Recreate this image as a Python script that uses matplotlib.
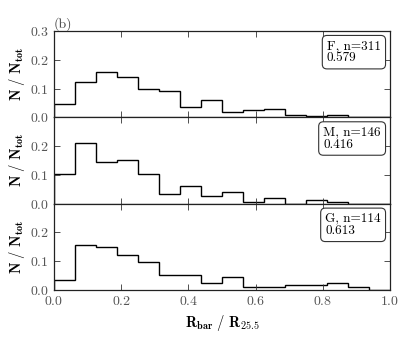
import numpy as np
import matplotlib
matplotlib.use("Agg")
import matplotlib.pyplot as plt
from matplotlib.ticker import FuncFormatter

plt.rcParams['mathtext.fontset'] = 'cm'
plt.rcParams['font.family'] = ['cmr10', 'DejaVu Serif']
plt.rcParams['axes.formatter.use_mathtext'] = True

bin_edges = [i / 16 for i in range(17)]

labels = ["F, n=311", "M, n=146", "G, n=114"]
stats = ["0.579", "0.416", "0.613"]

frac_F = [0.045, 0.122, 0.158, 0.1415, 0.100, 0.093, 0.035, 0.061,
          0.019, 0.026, 0.029, 0.0096, 0.003, 0.0064, 0.0, 0.0]
frac_M = [0.103, 0.212, 0.144, 0.151, 0.103, 0.034, 0.062, 0.027,
          0.041, 0.0068, 0.0205, 0.0, 0.0137, 0.0068, 0.0, 0.0]
frac_G = [0.035, 0.158, 0.149, 0.123, 0.0965, 0.053, 0.053, 0.026,
          0.044, 0.0088, 0.0088, 0.0175, 0.0175, 0.026, 0.0088, 0.0]

series = [frac_F, frac_M, frac_G]
xticks = [0.0, 0.2, 0.4, 0.6, 0.8, 1.0]

fig = plt.figure(figsize=(4.15, 3.42), dpi=100)
left, right = 54 / 415, 390 / 415
top, bottom = 1 - 31 / 342, 1 - 290 / 342
h = (top - bottom) / 3

fmt = FuncFormatter(lambda v, p: r'$%.1f$' % v)
axes = []
for i, (vals, lab, st) in enumerate(zip(series, labels, stats)):
    ax = fig.add_axes([left, top - (i + 1) * h, right - left, h])
    axes.append(ax)
    ax.stairs(vals, bin_edges, color='black', lw=1.0, baseline=0)
    ax.set_xlim(0, 1)
    ax.set_ylim(0, 0.3)
    ax.set_xticks(xticks)
    if i == 0:
        ax.set_yticks([0.0, 0.1, 0.2, 0.3])
    else:
        ax.set_yticks([0.0, 0.1, 0.2])
    ax.yaxis.set_major_formatter(fmt)
    ax.xaxis.set_major_formatter(fmt)
    ax.tick_params(direction='in', top=True, right=True, length=4,
                   width=0.6, labelsize=10, colors='#333333', labelcolor='#555555')
    if i < 2:
        ax.tick_params(labelbottom=False)
    for s in ax.spines.values():
        s.set_linewidth(0.9)
        s.set_color('#222222')
    ax.set_ylabel(r'$\mathbf{N\ /\ N_{tot}}$', fontsize=10.5, labelpad=2)
    ax.text(0.973, 0.895, lab + '\n' + st,
            transform=ax.transAxes, ha='right', va='top', fontsize=9.5,
            multialignment='left', linespacing=1.0,
            bbox=dict(boxstyle='round,pad=0.35', fc='white', ec='#333333', lw=0.8))

axes[0].text(0.0, 1.0, '(b)', transform=axes[0].transAxes,
             ha='left', va='bottom', fontsize=10, color='#444444')
axes[2].set_xlabel(r'$\mathbf{R_{bar}\ /\ R_{25.5}}$', fontsize=10.5, labelpad=4)

fig.savefig("out.png", dpi=100)
